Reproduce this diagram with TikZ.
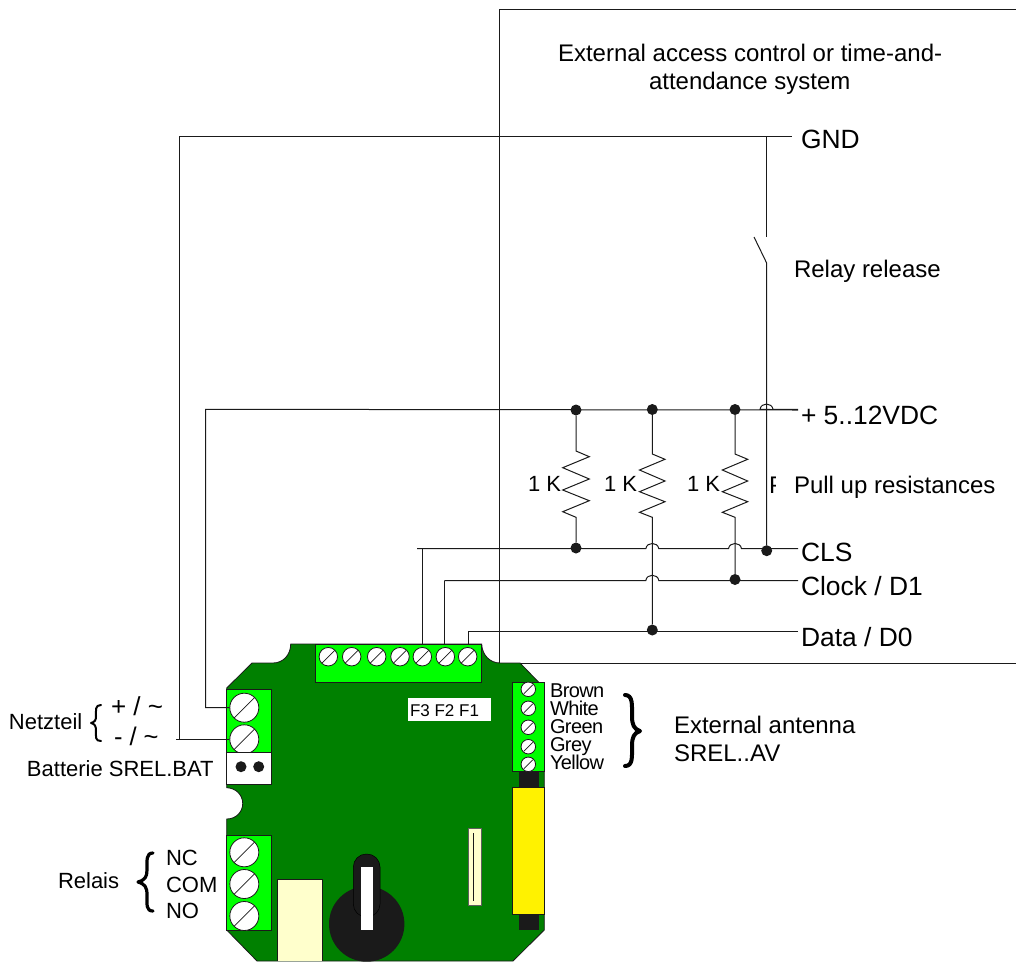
\documentclass[tikz,border=0pt]{standalone}
\usepackage{fontspec}
\setmainfont{Liberation Sans}
\newfontfamily\tightfont[LetterSpace=-3]{Liberation Sans}
\usetikzlibrary{calc}
\definecolor{boardgreen}{HTML}{008000}
\definecolor{termgreen}{HTML}{00FF00}
\definecolor{cream}{HTML}{FFFFCC}
\definecolor{ink}{HTML}{1A1A1A}
\newcommand{\fsz}[1]{\fontsize{#1pt}{#1pt}\selectfont}
\newcommand{\hopat}[2]{-- ({#1-6.5},#2) .. controls ({#1-5.5},{#2-7}) and ({#1+5.5},{#2-7}) .. ({#1+6.5},#2)}
\tikzset{
  wire/.style={draw=ink,line width=1pt},
  lbl/.style={anchor=base west,inner sep=0pt,outer sep=0pt,text=black,font=\fsz{#1}},
  lbl/.default=22,
  tight/.style={anchor=base west,inner sep=0pt,outer sep=0pt,text=black,font=\tightfont\fsz{20}},
  joint/.style={circle,fill=ink,draw=none,minimum size=11pt,inner sep=0pt},
  part/.style={draw=ink,line width=0.8pt},
  screw/.style={circle,fill=white,draw=ink,line width=0.8pt,inner sep=0pt,minimum size=#1pt,
     path picture={\draw[ink,line width=0.7pt] ($(path picture bounding box.south west)+(2.8pt,2.8pt)$) -- ($(path picture bounding box.north east)+(-2.8pt,-2.8pt)$);}},
  brace/.style={draw=black,line width=#1,line cap=round,line join=round,fill=none}
}
\begin{document}
\begin{tikzpicture}[x=1pt,y=-1pt]
\useasboundingbox (0,0) rectangle (1016,961);
% external box
\draw[wire] (1016,9) -- (499.5,9) -- (499.5,663) -- (1016,663);
\node[lbl=24] (ext1) at (558,61) {External access control or time-and-};
\node[lbl=24] (ext2) at (649,89) {attendance system};
% clipped hidden label
\begin{scope}
\clip (769,470) rectangle (775,497);
\node[lbl=24] (hiddenP) at (769,493) {P};
\end{scope}
% board
\fill[boardgreen,draw=ink,line width=0.8pt]
 (290.7,644) -- (481.7,644) .. controls (482,655) and (490,663) .. (500,663) -- (520,663) -- (544.3,688) -- (544.3,930) -- (513,961)
 -- (257,961) -- (226.7,930) -- (226.7,819) .. controls (236,819) and (242.7,812) .. (242.7,803.5) .. controls (242.7,795) and (236,788) .. (226.7,787.7)
 -- (226.7,688) -- (252,663) -- (273,663) .. controls (283,663) and (290.7,655) .. (290.7,644) -- cycle;
% top terminal
\node[part,fill=termgreen,inner sep=0,minimum width=165.3pt,minimum height=38.3pt] (ttop) at (398.3,663.1) {};
\foreach \n/\x in {a/328.3,b/351.7,c/376.7,d/400,e/422.3,f/445.3,g/467.7}
  \node[screw=18.5] (top\n) at (\x,656.7) {};
% left terminal
\node[part,fill=termgreen,inner sep=0,minimum width=44.6pt,minimum height=63.3pt] (tleft) at (249,720.6) {};
\node[screw=29] (pw1) at (244.3,707.7) {};
\node[screw=29] (pw2) at (244.3,739.3) {};
\node[part,fill=white,inner sep=0,minimum width=44.6pt,minimum height=32pt] (batt) at (249,768.2) {};
\node[circle,fill=ink,minimum size=11pt,inner sep=0] (bd1) at (241,766.7) {};
\node[circle,fill=ink,minimum size=11pt,inner sep=0] (bd2) at (258.7,766.7) {};
% relay terminal
\node[part,fill=termgreen,inner sep=0,minimum width=44.6pt,minimum height=95pt] (trel) at (249,882.5) {};
\node[screw=29] (rl1) at (244.3,852.3) {};
\node[screw=29] (rl2) at (244.3,884) {};
\node[screw=29] (rl3) at (244.3,916) {};
% cream block
\fill[cream,draw=ink,line width=0.5pt] (277.7,961) -- (277.7,879.3) -- (322.3,879.3) -- (322.3,961);
% knob
\fill[ink] (366.7,924) circle (37.7);
\draw[fill=ink,draw=black,line width=0.5pt,rounded corners=13pt] (353.3,917) rectangle (380,854);
\node[fill=white,inner sep=0,minimum width=12pt,minimum height=63.3pt] (kslot) at (366.7,898.3) {};
% small cream
\node[part,draw=ink!70,fill=cream,inner sep=0,minimum width=13pt,minimum height=76.7pt] (cr) at (474.8,866.7) {};
\draw[ink,line width=0.7pt] (473.5,833) -- (473.5,901);
% antenna
\node[fill=ink,inner sep=0,minimum width=19.4pt,minimum height=16.3pt] (ab1) at (529,779.2) {};
\node[fill=ink,inner sep=0,minimum width=19.4pt,minimum height=16pt] (ab2) at (529,922) {};
\node[part,fill=yellow,inner sep=0,minimum width=31.6pt,minimum height=127pt] (ay) at (528.5,850.8) {};
\node[part,fill=termgreen,inner sep=0,minimum width=31.6pt,minimum height=89pt] (at) at (528.5,726.8) {};
\foreach \n/\y in {1/689.3,2/708.3,3/727.3,4/746.7,5/764.3}
  \node[screw=14.5] (an\n) at (528.3,\y) {};
% F label
\node[fill=white,inner sep=0,minimum width=82.7pt,minimum height=22.4pt] (fbox) at (449.6,709.5) {};
\node[lbl=17] (ftxt) at (410,716) {F3 F2 F1};
% coordinates
\coordinate (g0) at (179,136); \coordinate (gE) at (792,136); \coordinate (gT) at (766.5,136);
\coordinate (gL) at (179,739.3);\coordinate (gEnd) at (176,739.3);
\coordinate (sw1) at (766.5,237); \coordinate (sw2a) at (754,237); \coordinate (sw2) at (766.5,262.7);
\coordinate (pL) at (205.5,409.3); \coordinate (pE) at (798,409.3); \coordinate (pB) at (205.5,707.7);
\coordinate (cE) at (798,548.7); \coordinate (cL) at (417,548.7); \coordinate (cV) at (422.3,548.7);
\coordinate (kE) at (798,580.5); \coordinate (kL) at (444.3,580.5);
\coordinate (dE) at (798,631); \coordinate (dL) at (468,631);
% joints
\node[joint] (j1) at (576,410) {};
\node[joint] (j2) at (652.3,409.5) {};
\node[joint] (j3) at (735,409.5) {};
\node[joint] (j4) at (576,548) {};
\node[joint] (j5) at (766.7,550.7) {};
\node[joint] (j6) at (735,579.5) {};
\node[joint] (j7) at (652.3,630) {};
% wires
\draw[wire] (gEnd) -- (pw2.west);
\draw[wire] (gL) -- (g0) -- (gE);
\draw[wire] (gT) -- (sw1);
\draw[wire] (sw2a) -- (sw2) -- (j5);
\draw[wire] (pw1.west) -- (pB) -- (pL) -- (pE |- j1) \hopat{766.5}{409.3} -- (pE);
\draw[wire] (cL) -- (cL -| j4) \hopat{652.3}{548.7} \hopat{735}{548.7} -- (cE);
\draw[wire] (cV) -- (ttop.north -| cV);
\draw[wire] (kL) \hopat{652.3}{580.5} -- (kE);
\draw[wire] (kL) -- (ttop.north -| kL);
\draw[wire] (dE) -- (dL) -- (ttop.north -| dL);
% resistors
\draw[wire] (j1) -- (576,451) -- (589.3,456.7) -- (562.7,467.7) -- (589.3,479) -- (562.7,490) -- (589.3,500.7) -- (562.7,511.7) -- (576,517.3) -- (j4);
\draw[wire] (j2) -- (652.3,454) -- (665,459.3) -- (639.5,470) -- (665,481) -- (639.5,491.7) -- (665,501.7) -- (639.5,512.3) -- (652.3,517.3) -- (j7);
\draw[wire] (j3) -- (735,454) -- (747.7,459.3) -- (722.3,470) -- (747.7,481) -- (722.3,491.7) -- (747.7,501.7) -- (722.3,512.3) -- (735,517.3) -- (j6);
% labels
\node[lbl=26.4] (lgnd) at (801,148) {GND};
\node[lbl=24] (lrel) at (794,277) {Relay release};
\node[lbl=26.4] (lpow) at (801,424) {+ 5..12VDC};
\node[lbl=24] (lpul) at (794,493) {Pull up resistances};
\node[lbl=26.4] (lcls) at (801,561) {CLS};
\node[lbl=26.4] (lclk) at (801,595) {Clock / D1};
\node[lbl=26.4] (ldat) at (801,646) {Data / D0};
\node[lbl=24] (lant1) at (674,733) {External antenna};
\node[lbl=24] (lant2) at (674,761) {SREL..AV};
\node[lbl=22] (k1) at (528,491) {1 K};
\node[lbl=22] (k2) at (604,491) {1 K};
\node[lbl=22] (k3) at (687,491) {1 K};
\node[tight] (c1) at (550,697) {Brown};
\node[tight] (c2) at (550,715) {White};
\node[tight] (c3) at (550,733.5) {Green};
\node[tight] (c4) at (550,751) {Grey};
\node[tight] (c5) at (550,769) {Yellow};
\node[lbl=22] (ln) at (9,729) {Netzteil};
\node[lbl=26] (lplus) at (111,715) {+ / \char"7E};
\node[lbl=25.5] (lminus) at (114,745) {- / \char"7E};
\node[lbl=22] (lbat) at (27,776) {Batterie SREL.BAT};
\node[lbl=22] (lrl) at (58,888) {Relais};
\node[lbl=22] (lnc) at (166,865) {NC};
\node[lbl=22] (lcom) at (166,892) {COM};
\node[lbl=22] (lno) at (166,918) {NO};
% braces
\draw[brace=2pt] (101,705) .. controls (95,705) and (96,710) .. (96,716) .. controls (96,720) and (95,722) .. (91,723) .. controls (95,724) and (96,726) .. (96,731) .. controls (96,737) and (95,741) .. (101,741);
\draw[brace=3.2pt] (153,853) .. controls (146,853) and (147,860) .. (147,870) .. controls (147,877) and (145,880) .. (138,882) .. controls (145,884) and (147,887) .. (147,895) .. controls (147,905) and (146,911) .. (153,911);
\draw[brace=4pt] (625,695) .. controls (633,695) and (632,705) .. (632,716) .. controls (632,725) and (634,729) .. (640,731) .. controls (634,733) and (632,737) .. (632,746) .. controls (632,757) and (633,766) .. (625,766);
\end{tikzpicture}
\end{document}
